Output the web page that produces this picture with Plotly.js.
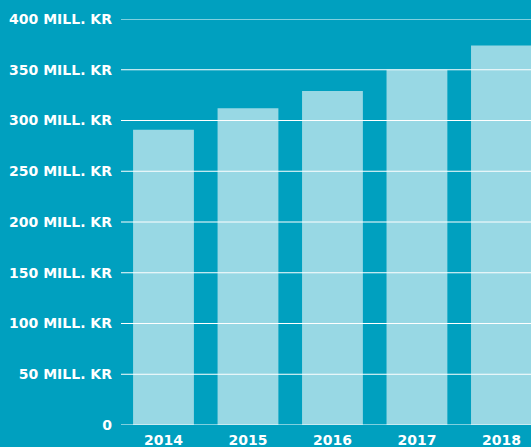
<!DOCTYPE html>
<html>
<head>
<meta charset="utf-8">
<script src="https://cdn.plot.ly/plotly-3.0.1.min.js"></script>
<style>
  html, body { margin: 0; padding: 0; background: #00a0bf; }
  #chart { width: 531px; height: 447px; }
</style>
</head>
<body>
<div id="chart"></div>
<script>
// years and values (mill. kr)
const years = ["2014", "2015", "2016", "2017", "2018"];
const values = [291, 312, 329, 350, 374];
const tickVals = [0, 50, 100, 150, 200, 250, 300, 350, 400];
const tickLabels = ["0", "50 MILL. KR", "100 MILL. KR", "150 MILL. KR", "200 MILL. KR",
    "250 MILL. KR", "300 MILL. KR", "350 MILL. KR", "400 MILL. KR"];

const bg = "#00a0bf";
const barColor = "#98d8e4";
const font = { family: "DejaVu Sans", size: 14, color: "#ffffff", weight: "bold" };

const trace = {
    x: years,
    y: values,
    type: "bar",
    width: 0.72,
    marker: { color: barColor },
    hoverinfo: "none"
};

// gridlines sit on top of the bars, so draw them as shapes
const gridShapes = tickVals.map(v => ({
    type: "line",
    xref: "paper", x0: 0, x1: 1,
    yref: "y", y0: v, y1: v,
    line: { color: "#ffffff", width: 1 },
    layer: "above"
}));

const layout = {
    width: 531,
    height: 447,
    margin: { l: 121, r: 0, t: 19, b: 22 },
    paper_bgcolor: bg,
    plot_bgcolor: bg,
    showlegend: false,
    font: font,
    xaxis: {
        type: "category",
        range: [-0.503, 4.35],
        showgrid: false,
        zeroline: false,
        showline: false,
        ticks: "",
        tickfont: font,
        ticklabelstandoff: 5
    },
    yaxis: {
        range: [0, 400],
        tickvals: tickVals,
        ticktext: tickLabels,
        showgrid: false,
        zeroline: false,
        showline: false,
        ticks: "",
        tickfont: font,
        ticklabelstandoff: 8
    },
    shapes: gridShapes
};

Plotly.newPlot("chart", [trace], layout, { displayModeBar: false, staticPlot: true });
</script>
</body>
</html>
